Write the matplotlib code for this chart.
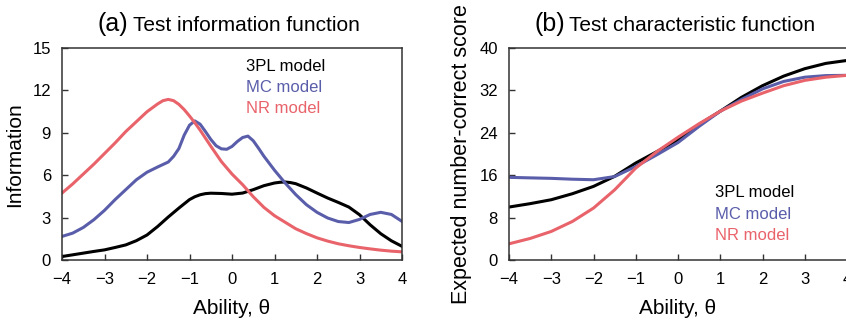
import numpy as np
import matplotlib
matplotlib.use("Agg")
import matplotlib.pyplot as plt

plt.rcParams['font.family'] = ['Liberation Sans', 'DejaVu Sans']

BLACK = "#000000"
BLUE = "#5a5eaa"
RED = "#e9636b"

# test information, read at 0.25 steps with extra points around the bumps
theta_3pl = [-4, -3.75, -3.5, -3.25, -3, -2.75, -2.5, -2.25, -2, -1.75, -1.5, -1.25,
             -1, -0.875, -0.75, -0.625, -0.5, -0.25, 0, 0.25, 0.5, 0.75, 1, 1.125,
             1.25, 1.375, 1.5, 1.75, 2, 2.25, 2.5, 2.75, 3, 3.25, 3.5, 3.75, 4]
info_3pl = [0.28, 0.40, 0.52, 0.64, 0.75, 0.92, 1.10, 1.40, 1.80, 2.40, 3.07, 3.70,
            4.30, 4.50, 4.64, 4.72, 4.75, 4.73, 4.68, 4.76, 5.00, 5.28, 5.47, 5.52,
            5.54, 5.50, 5.42, 5.12, 4.76, 4.41, 4.10, 3.77, 3.23, 2.52, 1.89, 1.39, 1.00]

theta_mc = [-4, -3.75, -3.5, -3.25, -3, -2.75, -2.5, -2.25, -2, -1.75, -1.5, -1.375,
            -1.25, -1.125, -1, -0.875, -0.75, -0.625, -0.5, -0.375, -0.25, -0.125, 0,
            0.125, 0.25, 0.375, 0.5, 0.625, 0.75, 1, 1.25, 1.5, 1.75, 2, 2.25, 2.5,
            2.75, 3, 3.25, 3.5, 3.75, 4]
info_mc = [1.70, 1.93, 2.33, 2.88, 3.54, 4.30, 5.00, 5.70, 6.23, 6.60, 6.95, 7.35,
           7.90, 8.85, 9.55, 9.85, 9.62, 9.10, 8.55, 8.10, 7.88, 7.85, 8.05,
           8.40, 8.68, 8.78, 8.45, 7.92, 7.36, 6.37, 5.47, 4.65, 3.94, 3.40, 3.00, 2.75,
           2.68, 2.90, 3.25, 3.40, 3.25, 2.76]

theta_nr = [-4, -3.75, -3.5, -3.25, -3, -2.75, -2.5, -2.25, -2, -1.75, -1.625, -1.5,
            -1.375, -1.25, -1.125, -1, -0.875, -0.75, -0.5, -0.25, 0, 0.25, 0.5, 0.75,
            1, 1.25, 1.5, 1.75, 2, 2.25, 2.5, 2.75, 3, 3.25, 3.5, 3.75, 4]
info_nr = [4.76, 5.40, 6.10, 6.80, 7.55, 8.30, 9.10, 9.80, 10.50, 11.05, 11.28, 11.37,
           11.28, 11.02, 10.65, 10.20, 9.72, 9.20, 8.07, 6.98, 6.10, 5.35, 4.50, 3.75,
           3.16, 2.70, 2.24, 1.90, 1.60, 1.37, 1.18, 1.04, 0.92, 0.82, 0.73, 0.66, 0.61]

# test characteristic curves (step 0.5)
theta_tcc = np.arange(-4, 4.001, 0.5)

tcc_3pl = [10.06, 10.70, 11.44, 12.57, 13.95, 15.84, 18.35, 20.50, 22.70,
           25.60, 28.10, 30.70, 32.90, 34.70, 36.10, 37.10, 37.65]
tcc_mc = [15.65, 15.55, 15.46, 15.30, 15.20, 15.80, 17.70, 19.90, 22.20,
          25.25, 28.10, 30.30, 32.30, 33.70, 34.50, 34.80, 34.85]
tcc_nr = [3.14, 4.15, 5.47, 7.35, 9.87, 13.30, 17.40, 20.50, 23.20,
          25.75, 28.10, 30.00, 31.50, 32.90, 33.90, 34.50, 34.85]

model_names = ["3PL model", "MC model", "NR model"]
model_colors = [BLACK, BLUE, RED]

fig = plt.figure(figsize=(8.46, 3.23), dpi=100)
ax1 = fig.add_axes([0.0733, 0.1935, 0.4019, 0.658])
ax2 = fig.add_axes([0.6017, 0.1935, 0.3995, 0.658])


def style_axes(ax):
    for s in ax.spines.values():
        s.set_color("#333333")
        s.set_linewidth(1.1)
    ax.tick_params(direction="in", length=4, width=1.0, color="#333333",
                   labelsize=12, pad=8)
    ax.set_xlim(-4, 4)
    ax.set_xticks(range(-4, 5))
    ax.set_xlabel("Ability, θ", fontsize=15, labelpad=9)


# (a) information
info_series = [(theta_3pl, info_3pl), (theta_mc, info_mc), (theta_nr, info_nr)]
for (xs, ys), c in zip(info_series, model_colors):
    ax1.plot(xs, ys, color=c, lw=2.2, solid_joinstyle="round")
style_axes(ax1)
ax1.set_ylim(0, 15)
ax1.set_yticks(range(0, 16, 3))
ax1.set_ylabel("Information", fontsize=15, labelpad=6)
for i, (name, c) in enumerate(zip(model_names, model_colors)):
    ax1.text(0.54, 0.915 - i * 0.101, name, color=c, fontsize=12,
             transform=ax1.transAxes, va="center")
ax1.text(0.103, 1.081, "(a)", fontsize=18, transform=ax1.transAxes, va="baseline")
ax1.text(0.209, 1.081, "Test information function", fontsize=15,
         transform=ax1.transAxes, va="baseline")

# (b) characteristic
for ys, c in zip([tcc_3pl, tcc_mc, tcc_nr], model_colors):
    ax2.plot(theta_tcc, ys, color=c, lw=2.2, solid_joinstyle="round")
style_axes(ax2)
ax2.set_ylim(0, 40)
ax2.set_yticks(range(0, 41, 8))
ax2.set_ylabel("Expected number-correct score", fontsize=15.5, labelpad=5)
for i, (name, c) in enumerate(zip(model_names, model_colors)):
    ax2.text(0.61, 0.318 - i * 0.101, name, color=c, fontsize=12,
             transform=ax2.transAxes, va="center")
ax2.text(0.074, 1.081, "(b)", fontsize=18, transform=ax2.transAxes, va="baseline")
ax2.text(0.178, 1.081, "Test characteristic function", fontsize=15,
         transform=ax2.transAxes, va="baseline")

fig.savefig("out.png", dpi=100)
